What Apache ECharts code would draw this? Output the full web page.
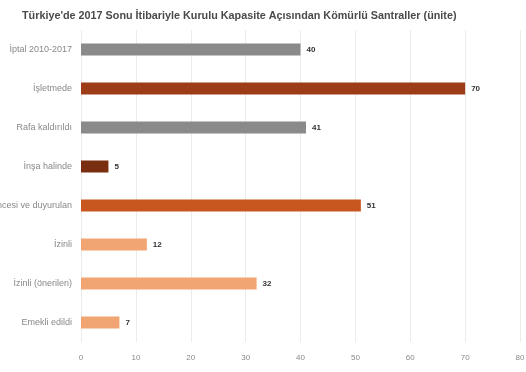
<!DOCTYPE html>
<html>
<head>
<meta charset="utf-8">
<script src="https://cdn.jsdelivr.net/npm/echarts@6/dist/echarts.min.js"></script>
<style>
  html, body { margin: 0; padding: 0; background: #ffffff; }
  #chart { width: 526px; height: 372px; }
</style>
</head>
<body>
<div id="chart"></div>
<script>
// Coal plant units in Türkiye by status, end of 2017
const categories = [
  'İptal 2010-2017',
  'İşletmede',
  'Rafa kaldırıldı',
  'İnşa halinde',
  'İzin öncesi ve duyurulan',
  'İzinli',
  'İzinli (önerilen)',
  'Emekli edildi'
];
const units = [40, 70, 41, 5, 51, 12, 32, 7];
const barColors = ['#8a8a8a', '#9c3d17', '#8a8a8a', '#7a2e10', '#c8561f', '#f1a573', '#f1a573', '#f1a573'];
const xTicks = { min: 0, max: 80, interval: 10 };

const chart = echarts.init(document.getElementById('chart'));
chart.setOption({
  animation: false,
  title: {
    text: "Türkiye'de 2017 Sonu İtibariyle Kurulu Kapasite Açısından Kömürlü Santraller (ünite)",
    left: 17,
    top: 6,
    textStyle: { fontFamily: 'Liberation Sans', fontSize: 10.8, fontWeight: 'bold', color: '#4a4a4a' }
  },
  grid: { left: 81, right: 6, top: 30, bottom: 30, containLabel: false, outerBoundsMode: 'none' },
  xAxis: {
    type: 'value',
    min: xTicks.min, max: xTicks.max, interval: xTicks.interval,
    axisLine: { show: false },
    axisTick: { show: false },
    splitLine: { lineStyle: { color: '#ececec', width: 1 } },
    axisLabel: { fontFamily: 'Liberation Sans', fontSize: 8, color: '#888', margin: 12 }
  },
  yAxis: {
    type: 'category',
    data: categories,
    inverse: true,
    axisLine: { show: false },
    axisTick: { show: false },
    axisLabel: { fontFamily: 'Liberation Sans', fontSize: 9, color: '#888', margin: 9 }
  },
  series: [{
    type: 'bar',
    data: units.map((v, i) => ({ value: v, itemStyle: { color: barColors[i] } })),
    barWidth: 12,
    label: {
      show: true,
      position: 'right',
      distance: 6,
      fontFamily: 'Liberation Sans',
      fontSize: 8,
      fontWeight: 'bold',
      color: '#333'
    }
  }]
});
</script>
</body>
</html>
